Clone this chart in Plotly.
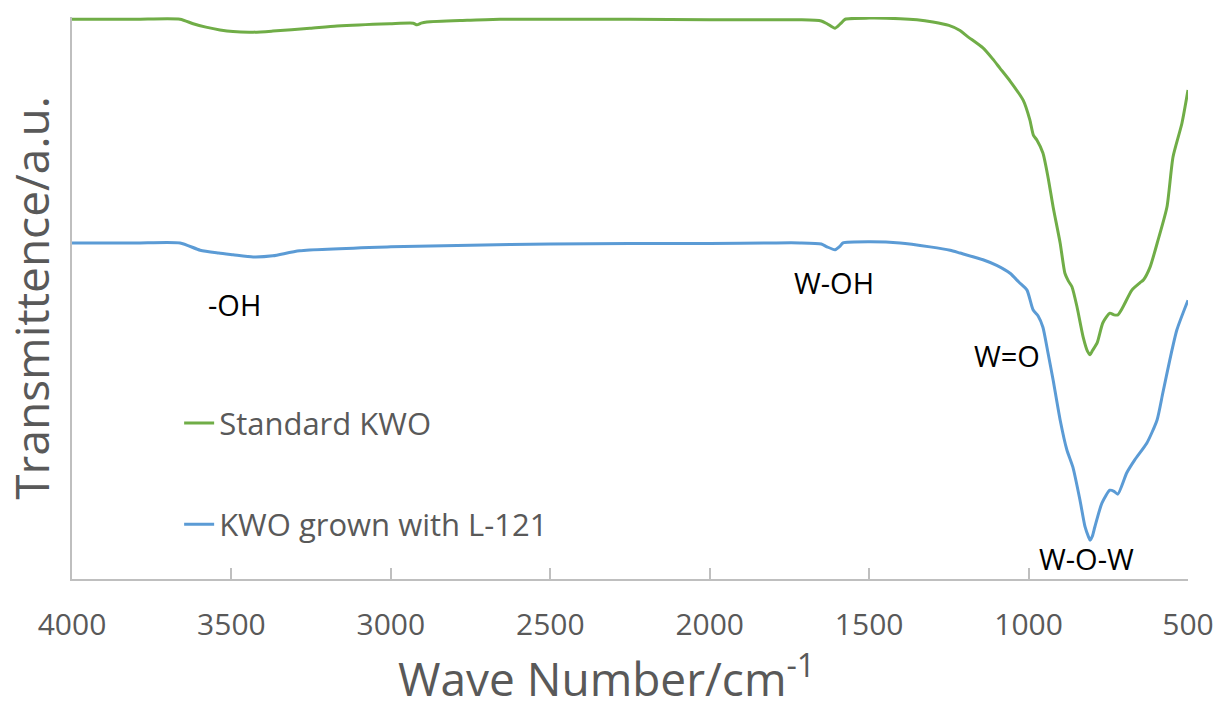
import plotly.graph_objects as go

# FTIR spectra (wave number in cm^-1, transmittance in arbitrary units, offset)
wn_standard = [4000, 3800, 3661, 3620, 3580, 3536, 3495, 3432, 3370, 3254, 3169, 3003,
               2930, 2918, 2905, 2887, 2761, 2658, 2500, 2250, 2000, 1800, 1717, 1650,
               1632, 1607, 1590, 1575, 1500, 1403, 1350, 1300, 1250, 1215, 1193, 1143,
               1112, 1090, 1058, 1017, 996, 985, 974, 955, 939, 923, 901, 886, 875, 864,
               848, 829, 815, 807, 800, 785, 767, 745, 732, 720, 704, 676, 651, 640, 619,
               594, 566, 547, 519, 500]
t_standard = [99.6, 99.6, 99.6, 98.8, 98.2, 97.7, 97.4, 97.3, 97.5, 98.0, 98.4, 98.8,
              98.9, 98.6, 98.9, 99.1, 99.4, 99.6, 99.6, 99.6, 99.5, 99.5, 99.5, 99.3,
              98.8, 98.0, 98.8, 99.6, 99.8, 99.7, 99.5, 99.1, 98.5, 97.6, 96.6, 94.5,
              92.5, 90.9, 88.6, 85.2, 81.7, 79.0, 78.1, 75.8, 71.5, 66.2, 59.8, 54.4, 53.0, 52.0,
              48.4, 43.1, 40.5, 39.9, 40.6, 42.0, 45.6, 47.3, 47.0, 47.0, 48.4, 51.4, 52.7, 53.2, 55.5,
              60.3, 66.2, 75.1, 81.1, 87.0]

wn_l121 = [4000, 3800, 3661, 3598, 3540, 3495, 3432, 3370, 3286, 3000, 2750, 2500,
           2250, 2000, 1800, 1717, 1650, 1632, 1607, 1590, 1582, 1500, 1403, 1309,
           1246, 1215, 1143, 1100, 1058, 1030, 1005, 986, 970, 955, 939, 923, 901, 880,
           861, 839, 823, 812, 807, 800, 792, 770, 745, 732, 720, 692, 667, 629, 597, 579,
           557, 535, 500]
t_l121 = [59.8, 59.8, 59.8, 58.5, 58.0, 57.7, 57.3, 57.5, 58.4, 59.1, 59.4, 59.6,
          59.7, 59.7, 59.8, 59.8, 59.6, 59.1, 58.6, 59.3, 59.8, 60.0, 59.8, 59.1,
          58.5, 58.0, 56.8, 55.8, 54.4, 52.8, 51.4, 47.9, 46.8, 44.8, 40.2, 35.4, 28.3, 23.0,
          19.9, 14.1, 9.3, 7.5, 6.9, 7.6, 9.3, 13.5, 15.8, 15.6, 15.1, 18.9, 21.2, 24.2, 28.3, 33.1,
          39.0, 44.3, 49.6]

x_ticks = [4000, 3500, 3000, 2500, 2000, 1500, 1000, 500]

# band assignments: (wave number, transmittance, label)
band_wn = [3489, 1610, 1068, 817]
band_t = [48.9, 52.7, 39.7, 3.7]
band_text = ["-OH", "W-OH", "W=O", "W-O-W"]

GREEN = "#70AD47"
BLUE = "#5B9BD5"
AXIS = "#BFBFBF"
TEXT = "#595959"
FONT = "Open Sans"

fig = go.Figure()
fig.add_trace(go.Scatter(
    x=wn_standard, y=t_standard, mode="lines", name="Standard KWO",
    legendgroup="a", line=dict(color=GREEN, width=3, shape="spline", smoothing=0.6),
))
fig.add_trace(go.Scatter(
    x=wn_l121, y=t_l121, mode="lines", name="KWO grown with L-121",
    legendgroup="b", line=dict(color=BLUE, width=3, shape="spline", smoothing=0.6),
))

for x, y, s in zip(band_wn, band_t, band_text):
    fig.add_annotation(x=x, y=y, text=s, showarrow=False,
                       font=dict(family=FONT, size=29, color="#000000"))

# x-axis title, placed below the tick labels
fig.add_annotation(
    x=0.4785, y=0, xref="paper", yref="paper", xanchor="center", yanchor="middle",
    yshift=-97, showarrow=False, text="Wave Number/cm<sup>-1</sup>",
    height=50, valign="middle",
    font=dict(family=FONT, size=46, color=TEXT),
)

fig.update_layout(
    width=1221, height=704,
    margin=dict(l=72, r=33, t=17, b=125),
    paper_bgcolor="white", plot_bgcolor="white",
    font=dict(family=FONT, color=TEXT),
    showlegend=True,
    legend=dict(
        x=0.096, y=0.325, xanchor="left", yanchor="top",
        font=dict(family=FONT, size=31, color=TEXT),
        traceorder="grouped", tracegroupgap=58,
        bgcolor="rgba(0,0,0,0)",
    ),
)

fig.update_xaxes(
    range=[4000, 500], tickmode="array", tickvals=x_ticks,
    ticktext=[str(v) for v in x_ticks],
    showgrid=False, zeroline=False, automargin=False,
    showline=True, linecolor=AXIS, linewidth=2,
    ticks="inside", ticklen=11, tickwidth=2, tickcolor=AXIS,
    tickfont=dict(family=FONT, size=30, color=TEXT),
    ticklabelstandoff=18,
)
fig.update_yaxes(
    range=[0, 100], showticklabels=False, ticks="",
    showgrid=False, zeroline=False, automargin=False,
    showline=True, linecolor=AXIS, linewidth=2,
    title=dict(text="Transmittence/a.u.",
               font=dict(family=FONT, size=46, color=TEXT), standoff=8),
)

fig.write_html("out.html")
